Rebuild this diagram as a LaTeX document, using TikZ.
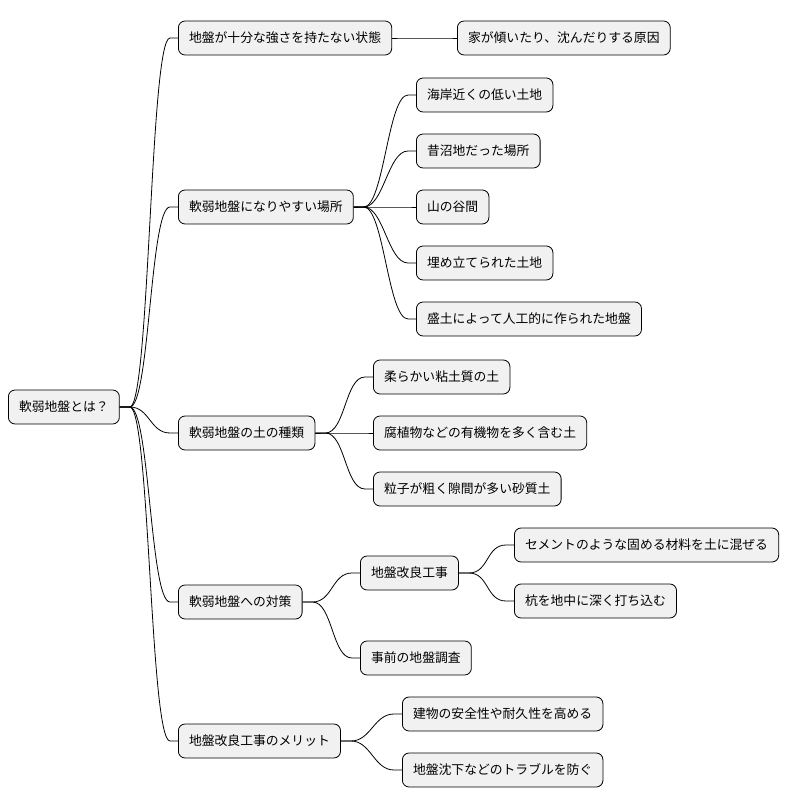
\documentclass[tikz,border=0pt]{standalone}
\usepackage{fontspec}
\setmainfont{Noto Sans CJK JP}
\begin{document}
\begin{tikzpicture}[x=0.75pt,y=-0.75pt,
  box/.style={draw=black,line width=0.6pt,fill=black!5.5,rounded corners=5pt,anchor=west,
    minimum height=25.5pt,inner xsep=8pt,font=\fontsize{9.6pt}{11pt}\selectfont},
  edge/.style={line width=0.6pt}]
\useasboundingbox (0,0) rectangle (810,809);
\node[box] (r) at (8,407) {軟弱地盤とは？};
\node[box] (a) at (178,38) {地盤が十分な強さを持たない状態};
\node[box] (a1) at (457,38) {家が傾いたり、沈んだりする原因};
\node[box] (b) at (178,207) {軟弱地盤になりやすい場所};
\node[box] (b1) at (416,95) {海岸近くの低い土地};
\node[box] (b2) at (416,151) {昔沼地だった場所};
\node[box] (b3) at (416,207) {山の谷間};
\node[box] (b4) at (416,263) {埋め立てられた土地};
\node[box] (b5) at (416,319) {盛土によって人工的に作られた地盤};
\node[box] (c) at (178,433) {軟弱地盤の土の種類};
\node[box] (c1) at (373,377) {柔らかい粘土質の土};
\node[box] (c2) at (373,433) {腐植物などの有機物を多く含む土};
\node[box] (c3) at (373,489) {粒子が粗く隙間が多い砂質土};
\node[box] (d) at (178,602) {軟弱地盤への対策};
\node[box] (d1) at (360,573) {地盤改良工事};
\node[box] (d11) at (514,545) {セメントのような固める材料を土に混ぜる};
\node[box] (d12) at (514,601) {杭を地中に深く打ち込む};
\node[box] (d2) at (360,658) {事前の地盤調査};
\node[box] (e) at (178,741) {地盤改良工事のメリット};
\node[box] (e1) at (402,714) {建物の安全性や耐久性を高める};
\node[box] (e2) at (402,770) {地盤沈下などのトラブルを防ぐ};
\foreach \p/\c in {r/a,r/b,r/c,r/d,r/e,a/a1,b/b1,b/b2,b/b3,b/b4,b/b5,c/c1,c/c2,c/c3,d/d1,d/d2,d1/d11,d1/d12,e/e1,e/e2}
  \draw[edge] (\p.east) -- ++(10,0) .. controls +(20,0) and +(-20,0) .. ([xshift=-8*0.75pt]\c.west) -- (\c.west);
\end{tikzpicture}
\end{document}
